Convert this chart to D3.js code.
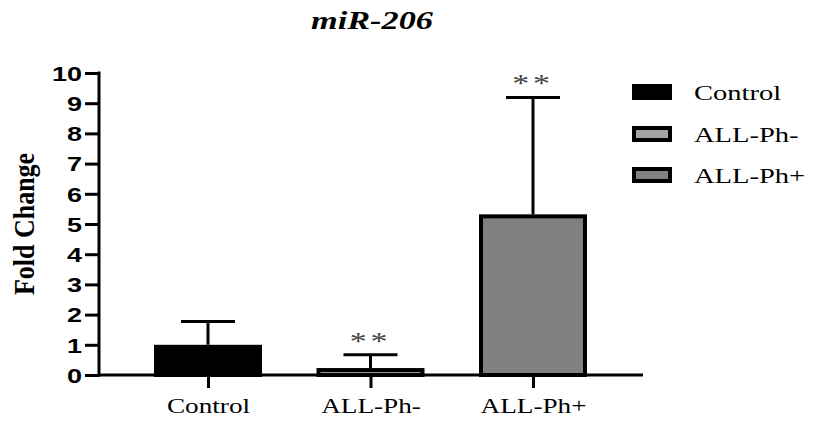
<!DOCTYPE html>
<html>
<head>
<meta charset="utf-8">
<script src="https://cdn.jsdelivr.net/npm/d3@7"></script>
<style>
  body { margin: 0; background: #fff; }
  svg { display: block; }
</style>
</head>
<body>
<svg id="chart" width="813" height="421"></svg>
<script>
const categories = ["Control", "ALL-Ph-", "ALL-Ph+"];
const meanValues = [1.0, 0.23, 5.32];
const sdValues = [0.77, 0.44, 3.87];
const significance = ["", "**", "**"];
const yTicks = [0, 1, 2, 3, 4, 5, 6, 7, 8, 9, 10];
const fillColors = ["#000000", "#a3a3a3", "#808080"];
const titleText = "miR-206";
const yLabelText = "Fold Change";

const svg = d3.select("#chart");
const y = d3.scaleLinear().domain([0, 10]).range([375, 73]);
const x = d3.scalePoint().domain(categories).range([208, 533]);
const barW = 108;
const axisLeft = 99, axisRight = 643;

// title
svg.append("text")
  .attr("transform", "translate(372,29) scale(1.32,1)")
  .attr("text-anchor", "middle")
  .style("font-family", "'Liberation Serif', 'Times New Roman', serif")
  .style("font-weight", "bold").style("font-style", "italic")
  .style("font-size", "26px")
  .text(titleText);

// y axis label
svg.append("text")
  .attr("transform", "translate(34,224) rotate(-90) scale(1,1.15)")
  .attr("text-anchor", "middle")
  .style("font-family", "'Liberation Serif', 'Times New Roman', serif")
  .style("font-weight", "bold")
  .style("font-size", "26px")
  .text(yLabelText);

// bars
const bars = svg.append("g");
categories.forEach((c, i) => {
  const cx = x(c);
  const top = y(meanValues[i] + sdValues[i]);
  bars.append("line")
    .attr("x1", cx).attr("x2", cx)
    .attr("y1", y(meanValues[i])).attr("y2", top)
    .attr("stroke", "#000").attr("stroke-width", 3);
  bars.append("line")
    .attr("x1", cx - 27).attr("x2", cx + 27)
    .attr("y1", top).attr("y2", top)
    .attr("stroke", "#000").attr("stroke-width", 3);
  bars.append("rect")
    .attr("x", cx - barW / 2 + 2)
    .attr("y", y(meanValues[i]) + 2)
    .attr("width", barW - 4)
    .attr("height", Math.max(0, y(0) - y(meanValues[i]) - 2))
    .attr("fill", fillColors[i])
    .attr("stroke", "#000").attr("stroke-width", 4);
  if (significance[i]) {
    bars.append("text")
      .attr("transform", `translate(${cx},${top - 5}) scale(1.3,1)`)
      .attr("text-anchor", "middle")
      .attr("fill", "#444")
      .style("font-family", "'Liberation Serif', 'Times New Roman', serif")
      .style("font-size", "26px")
      .style("letter-spacing", "3px")
      .text(significance[i]);
  }
});

// y axis
const yAxis = svg.append("g").attr("transform", `translate(${axisLeft},0)`)
  .call(d3.axisLeft(y).tickValues(yTicks).tickSize(14).tickPadding(3));
yAxis.select(".domain").remove();
yAxis.append("line").attr("x1", 0).attr("x2", 0).attr("y1", y(10) - 1.5).attr("y2", y(0) + 1.5)
  .attr("stroke", "#000").attr("stroke-width", 3);
yAxis.selectAll(".tick line").attr("stroke", "#000").attr("stroke-width", 3);
yAxis.selectAll(".tick text")
  .attr("fill", "#000")
  .attr("x", null)
  .attr("transform", "translate(-17,0) scale(1.35,1)")
  .attr("dy", "0.36em")
  .style("font-family", "'Liberation Sans', Arial, sans-serif")
  .style("font-weight", "bold")
  .style("font-size", "20px");

// x axis
const xAxis = svg.append("g").attr("transform", `translate(0,${y(0)})`)
  .call(d3.axisBottom(x).tickSize(13).tickPadding(8));
xAxis.select(".domain").remove();
xAxis.append("line").attr("x1", axisLeft).attr("x2", axisRight).attr("y1", 0).attr("y2", 0)
  .attr("stroke", "#000").attr("stroke-width", 3);
xAxis.selectAll(".tick line").attr("stroke", "#000").attr("stroke-width", 3);
xAxis.selectAll(".tick text")
  .attr("fill", "#000")
  .attr("y", null).attr("dy", null)
  .attr("transform", "translate(0,38) scale(1.36,1)")
  .style("font-family", "'Liberation Serif', 'Times New Roman', serif")
  .style("font-size", "20px");

// legend
const legend = svg.append("g");
const legendY = [92, 134, 175];
categories.forEach((c, i) => {
  legend.append("rect")
    .attr("x", 634).attr("y", legendY[i] - 6)
    .attr("width", 36).attr("height", 12)
    .attr("fill", fillColors[i])
    .attr("stroke", "#000").attr("stroke-width", 4);
  legend.append("text")
    .attr("transform", `translate(694,${legendY[i] + 8}) scale(1.36,1)`)
    .style("font-family", "'Liberation Serif', 'Times New Roman', serif")
    .style("font-size", "21px")
    .text(c);
});
</script>
</body>
</html>
